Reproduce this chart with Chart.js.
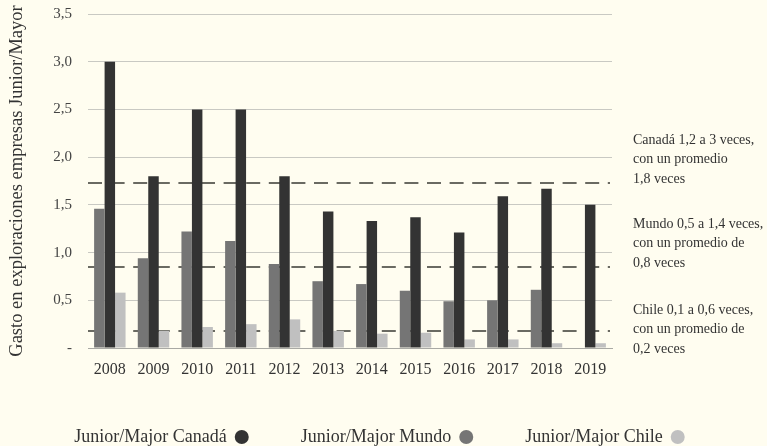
<!DOCTYPE html>
<html>
<head>
<meta charset="utf-8">
<script src="https://cdn.jsdelivr.net/npm/chart.js@4"></script>
<style>
  html, body { margin: 0; padding: 0; background: #fffdf0; }
  #wrap { width: 767px; height: 446px; }
</style>
</head>
<body>
<div id="wrap"><canvas id="c" width="767" height="446"></canvas></div>
<script>
const years = ['2008','2009','2010','2011','2012','2013','2014','2015','2016','2017','2018','2019'];
const canada = [3.0, 1.8, 2.5, 2.5, 1.8, 1.43, 1.33, 1.37, 1.21, 1.59, 1.67, 1.5];
const mundo  = [1.46, 0.94, 1.22, 1.12, 0.88, 0.70, 0.67, 0.60, 0.49, 0.50, 0.61, null];
const chile  = [0.58, 0.18, 0.22, 0.25, 0.30, 0.18, 0.15, 0.16, 0.09, 0.09, 0.05, 0.05];
const averageLines = [1.73, 0.85, 0.18];
const seriesNames = ['Junior/Major Canadá', 'Junior/Major Mundo', 'Junior/Major Chile'];
const yTitle = 'Gasto en exploraciones empresas Junior/Mayor';
const notes = [
  ['Canadá 1,2 a 3 veces,', 'con un promedio', '1,8 veces'],
  ['Mundo 0,5 a 1,4 veces,', 'con un promedio de', '0,8 veces'],
  ['Chile 0,1 a 0,6 veces,', 'con un promedio de', '0,2 veces']
];

const FONT = "'Liberation Serif', 'Times New Roman', serif";
const COLORS = { canada: '#333333', mundo: '#757575', chile: '#c0c0c0' };

const bgPlugin = {
  id: 'bg',
  beforeDraw(chart) {
    const ctx = chart.ctx;
    ctx.save();
    ctx.fillStyle = '#fffdf0';
    ctx.fillRect(0, 0, chart.width, chart.height);
    ctx.restore();
  }
};

const avgPlugin = {
  id: 'avgLines',
  beforeDatasetsDraw(chart) {
    const ctx = chart.ctx, y = chart.scales.y, a = chart.chartArea;
    ctx.save();
    ctx.strokeStyle = '#6a6a62';
    ctx.lineWidth = 2;
    ctx.setLineDash([14, 8.6]);
    averageLines.forEach(v => {
      const py = Math.round(y.getPixelForValue(v));
      ctx.beginPath();
      ctx.moveTo(a.left, py);
      ctx.lineTo(a.right - 2, py);
      ctx.stroke();
    });
    ctx.restore();
  }
};

const notesPlugin = {
  id: 'notes',
  afterDraw(chart) {
    const ctx = chart.ctx;
    const x = chart.chartArea.right + 21;
    const tops = [140, 224, 310];
    ctx.save();
    ctx.font = '14px ' + FONT;
    ctx.fillStyle = '#333333';
    ctx.textBaseline = 'middle';
    ctx.textAlign = 'left';
    notes.forEach((lines, i) => {
      lines.forEach((t, j) => ctx.fillText(t, x, tops[i] + j * 19.5));
    });
    ctx.restore();
  }
};

const legendPlugin = {
  id: 'customLegend',
  afterDraw(chart) {
    const ctx = chart.ctx;
    const order = [1, 0, 2];
    ctx.save();
    ctx.font = '18px ' + FONT;
    const gapText = 8, r = 7, gapItem = 52;
    const widths = order.map(i => ctx.measureText(chart.data.datasets[i].label).width);
    const total = widths.reduce((s, w) => s + w + gapText + 2 * r, 0) + gapItem * (order.length - 1);
    let x = chart.width / 2 - 4 - total / 2;
    const baseY = 442, cy = 437;
    order.forEach((di, k) => {
      const ds = chart.data.datasets[di];
      ctx.fillStyle = '#333333';
      ctx.textAlign = 'left';
      ctx.textBaseline = 'alphabetic';
      ctx.fillText(ds.label, x, baseY);
      const cx = x + widths[k] + gapText + r;
      ctx.beginPath();
      ctx.arc(cx, cy, r, 0, Math.PI * 2);
      ctx.fillStyle = ds.backgroundColor;
      ctx.fill();
      x = cx + r + gapItem;
    });
    ctx.restore();
  }
};

new Chart(document.getElementById('c'), {
  type: 'bar',
  data: {
    labels: years,
    datasets: [
      { label: seriesNames[1], data: mundo, backgroundColor: COLORS.mundo },
      { label: seriesNames[0], data: canada, backgroundColor: COLORS.canada },
      { label: seriesNames[2], data: chile, backgroundColor: COLORS.chile }
    ]
  },
  options: {
    responsive: false,
    devicePixelRatio: 1,
    animation: false,
    layout: { padding: { top: 14, right: 155, left: 0, bottom: 0 } },
    datasets: { bar: { categoryPercentage: 0.72, barPercentage: 1.0 } },
    plugins: {
      legend: { display: false },
      tooltip: { enabled: false }
    },
    scales: {
      x: {
        grid: { display: false, drawTicks: false },
        border: { display: true, color: '#a9a9a4', width: 1 },
        ticks: { font: { family: FONT, size: 16 }, color: '#333333', padding: 12, maxRotation: 0 },
        afterFit(scale) { scale.height = 98; scale.paddingTop = 0; scale.paddingBottom = 0; }
      },
      y: {
        min: 0, max: 3.5,
        grid: { color: '#c9c9c3', lineWidth: 1, drawTicks: false },
        border: { display: false },
        ticks: {
          stepSize: 0.5,
          font: { family: FONT, size: 15 },
          color: '#444444',
          padding: 16,
          callback: v => v === 0 ? '-' : v.toFixed(1).replace('.', ',')
        },
        title: {
          display: true,
          text: yTitle,
          font: { family: FONT, size: 18.5 },
          color: '#333333',
          padding: { top: 6, bottom: 0 }
        },
        afterFit(scale) { scale.width = 88; scale.paddingTop = 0; scale.paddingBottom = 0; }
      }
    }
  },
  plugins: [bgPlugin, avgPlugin, notesPlugin, legendPlugin]
});
</script>
</body>
</html>
